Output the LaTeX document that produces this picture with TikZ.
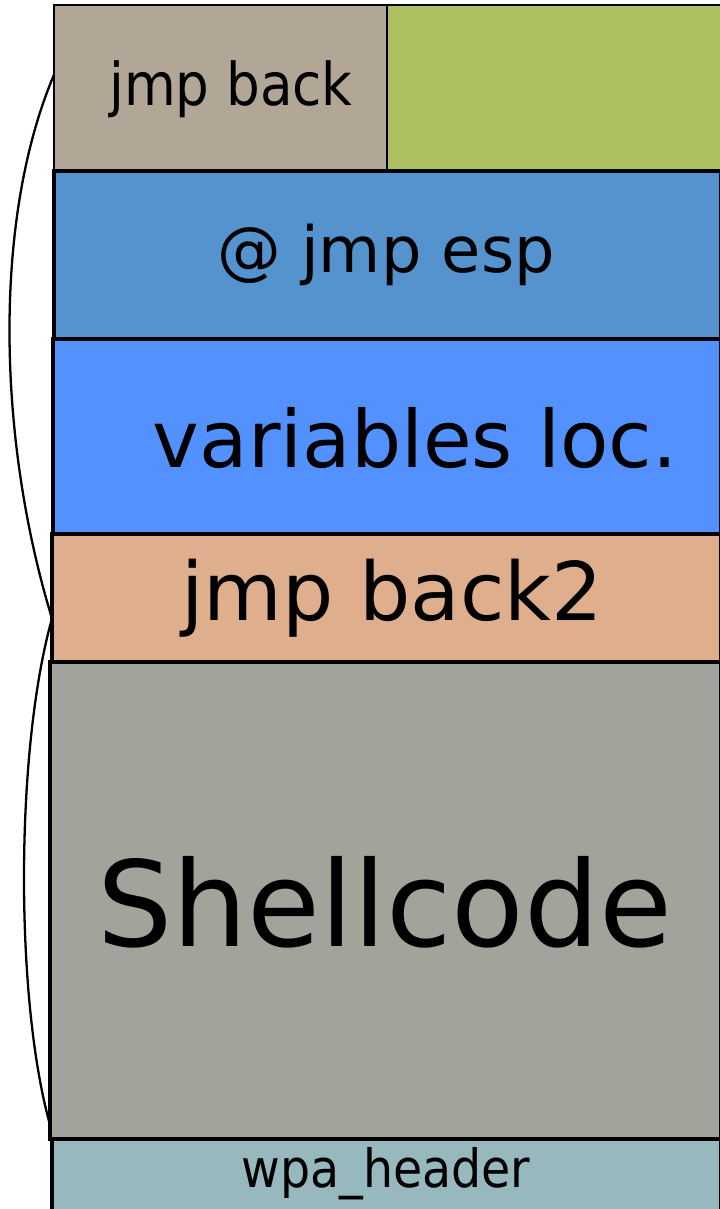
\documentclass[tikz,border=0pt]{standalone}
\usepackage{fontspec}
\setmainfont{DejaVu Sans}
\newfontfamily\condfont{DejaVu Sans Condensed}
\usetikzlibrary{calc}

\definecolor{tanbox}{HTML}{B2A796}
\definecolor{greenbox}{HTML}{ADC163}
\definecolor{espblue}{HTML}{5493CE}
\definecolor{locblue}{HTML}{5391FF}
\definecolor{peach}{HTML}{DFAF8D}
\definecolor{shellgrey}{HTML}{A3A39B}
\definecolor{hdrblue}{HTML}{97B8BD}

\tikzset{
  cell/.style={draw, line width=1.8pt, inner sep=0pt, outer sep=0pt},
  thincell/.style={cell, line width=1.1pt},
  lbl/.style={anchor=base, inner sep=0pt},
  link/.style={line width=1.3pt}
}

\begin{document}
\begin{tikzpicture}
\useasboundingbox (0,0) rectangle (14.4,-24.18);

% the stack, top to bottom
\node[thincell, fill=tanbox, anchor=north west, minimum width=6.66cm, minimum height=3.32cm] (jmpback) at (1.08,-0.10) {};
\node[thincell, fill=greenbox, anchor=north west, minimum width=6.68cm, minimum height=3.32cm] (spare) at (jmpback.north east) {};
\node[cell, fill=espblue, anchor=north east, minimum width=13.34cm, minimum height=3.36cm] (jmpesp) at (spare.south east) {};
\node[cell, fill=locblue, anchor=north east, minimum width=13.36cm, minimum height=3.90cm] (varloc) at (jmpesp.south east) {};
\node[cell, fill=peach, anchor=north east, minimum width=13.38cm, minimum height=2.56cm] (jmpback2) at (varloc.south east) {};
\node[cell, fill=shellgrey, anchor=north east, minimum width=13.42cm, minimum height=9.54cm] (shell) at (jmpback2.south east) {};
\node[cell, fill=hdrblue, anchor=north east, minimum width=13.38cm, minimum height=1.50cm] (wpa) at (shell.south east) {};

% labels
\node[lbl, font=\condfont\fontsize{33.6}{40}\selectfont] (tjmpback) at (4.62,-2.10) {jmp back};
\node[lbl, font=\fontsize{36.3}{43}\selectfont] (tjmpesp) at (7.72,-5.44) {@ jmp esp};
\node[lbl, font=\fontsize{45}{54}\selectfont] (tvarloc) at (8.30,-9.34) {variables loc.};
\node[lbl, font=\fontsize{46}{55}\selectfont] (tjmpback2) at (7.84,-12.40) {jmp back2};
\node[lbl, font=\fontsize{67.5}{81}\selectfont] (tshell) at (7.70,-18.92) {Shellcode};
\node[lbl, font=\condfont\fontsize{30}{36}\selectfont] (twpa) at (7.72,-23.74) {wpa\_header};

% jumps back along the left side
\coordinate (out1) at ($(jmpback.north west)!0.42!(jmpback.south west)$);
\coordinate (hop) at ($(jmpback2.north west)!0.66!(jmpback2.south west)$);
\coordinate (in2) at ($(shell.north west)!0.97!(shell.south west)$);
\draw[link] (out1) .. controls (-0.15,-4.4) and (-0.05,-8.8) .. (hop);
\draw[link] (hop) .. controls (0.3,-15) and (0.3,-20) .. (in2);
\end{tikzpicture}
\end{document}
